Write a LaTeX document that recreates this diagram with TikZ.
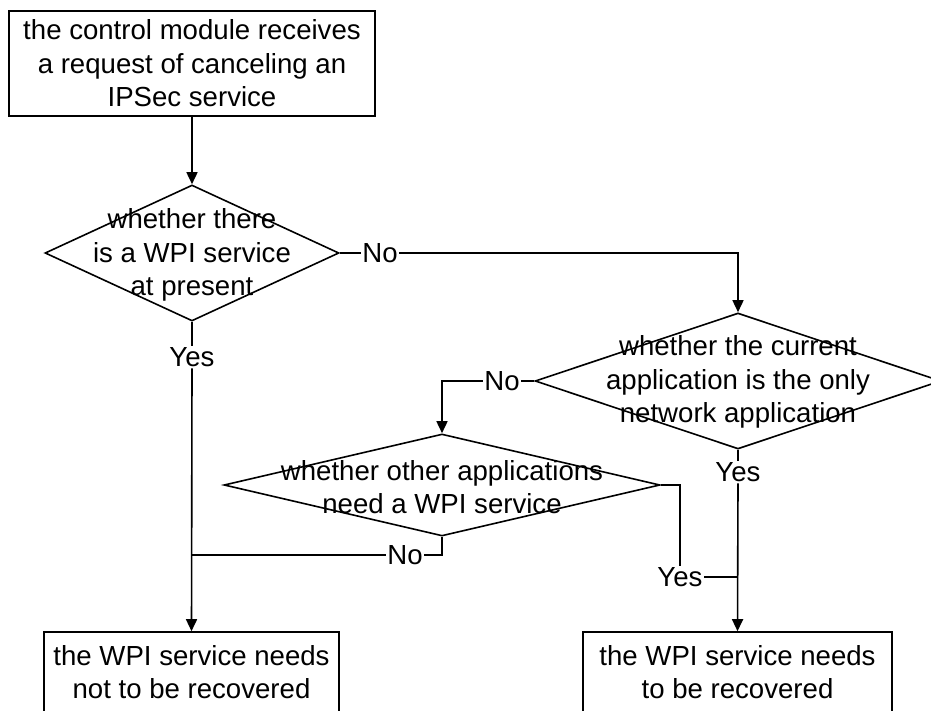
\documentclass[tikz,border=0pt]{standalone}
\usepackage{fontspec}
\setmainfont{Liberation Sans}
\usepackage{tikz}
\usetikzlibrary{shapes.geometric, arrows.meta}

\begin{document}
\begin{tikzpicture}[x=1pt, y=-1pt,
    every node/.style={font=\fontsize{27.6}{33.5}\selectfont},
    stepbox/.style={draw, line width=1.6pt, rectangle, align=center, inner sep=0pt},
    decision/.style={draw, line width=1.6pt, diamond, inner sep=0pt},
    txt/.style={align=center, inner sep=0pt},
    tag/.style={inner sep=1.5pt},
    link/.style={line width=1.6pt},
    arr/.style={link, -{Triangle[length=12pt, width=11pt]}}
  ]
  \useasboundingbox (0, 0) rectangle (931, 711);

  \node[stepbox, minimum width=366pt, minimum height=105pt] (start) at (192, 63.3)
    {the control module receives\\a request of canceling an\\IPSec service};

  \node[decision, minimum width=294pt, minimum height=136pt] (d1) at (192, 253) {};
  \node[txt] (d1text) at (192, 255) {whether there\\is a WPI service\\at present};

  \node[decision, minimum width=406pt, minimum height=136pt] (d2) at (738, 381) {};
  \node[txt] (d2text) at (738, 382) {whether the current\\application is the only\\network application};

  \node[decision, minimum width=436pt, minimum height=102pt] (d3) at (442, 485) {};
  \node[txt] (d3text) at (442, 487) {whether other applications\\need a WPI service};

  \node[stepbox, minimum width=295pt, minimum height=80pt] (keep) at (191.5, 672)
    {the WPI service needs\\not to be recovered};
  \node[stepbox, minimum width=309pt, minimum height=80pt] (redo) at (737.5, 672)
    {the WPI service needs\\to be recovered};

  \node[tag] (n1) at (380, 253) {No};
  \node[tag] (y1) at (192, 357) {Yes};
  \node[tag] (n2) at (502, 381) {No};
  \node[tag] (y2) at (738, 472) {Yes};
  \node[tag] (n3) at (405, 555) {No};
  \node[tag] (y3) at (680, 577) {Yes};

  \draw[arr] (start.south) -- (d1.north);
  \draw[link] (d1.east) -- (n1.west);
  \draw[arr] (n1.east) -| (d2.north);
  \draw[link] (d1.south) -- (y1.north);
  \draw[arr] (y1.south) -- (keep.north);

  \draw[link] (d2.west) -- (n2.east);
  \draw[arr] (n2.west) -| (d3.north);
  \draw[link] (d2.south) -- (y2.north);
  \draw[arr] (y2.south) -- (redo.north);

  \draw[link] (d3.south) |- (n3.east);
  \draw[link] (n3.west) -- (n3.west -| y1.south);
  \draw[link] (d3.east) -| (y3.north);
  \draw[link] (y3.east) -- (y3.east -| y2.south);
\end{tikzpicture}
\end{document}
